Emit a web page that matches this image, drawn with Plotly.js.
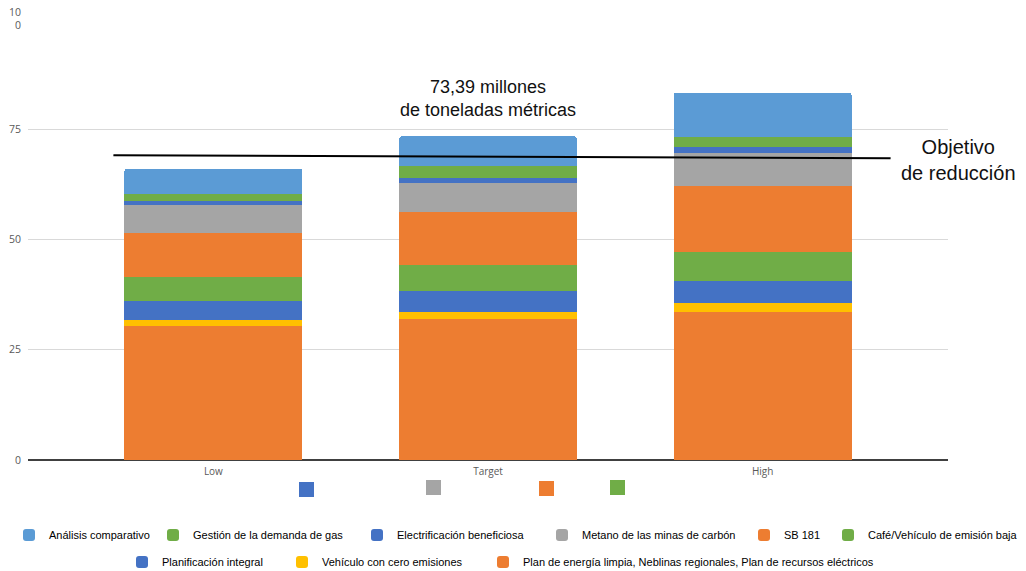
<!DOCTYPE html>
<html>
<head>
<meta charset="utf-8">
<script src="https://cdn.plot.ly/plotly-3.0.1.min.js"></script>
<style>html,body{margin:0;padding:0;background:#fff}#chart{width:1026px;height:571px}</style>
</head>
<body>
<div id="chart"></div>
<script>
// ----- data -----
const categories = ["Low", "Target", "High"];
const seriesNames = [
  "Plan de energía limpia, Neblinas regionales, Plan de recursos eléctricos",
  "Vehículo con cero emisiones",
  "Planificación integral",
  "Café/Vehículo de emisión baja",
  "SB 181",
  "Metano de las minas de carbón",
  "Electrificación beneficiosa",
  "Gestión de la demanda de gas",
  "Análisis comparativo"
];
const planEnergia   = [30.4, 32.0, 33.6];
const vehiculoCero  = [1.3, 1.6, 1.9];
const planificacion = [4.3, 4.7, 5.0];
const cafeVehiculo  = [5.4, 5.9, 6.6];
const sb181         = [10.1, 12.1, 15.0];
const metano        = [6.3, 6.6, 7.5];
const electrif      = [0.9, 1.1, 1.3];
const gestionGas    = [1.7, 2.6, 2.4];
const analisis      = [5.7, 6.79, 10.0];
const seriesValues = [planEnergia, vehiculoCero, planificacion, cafeVehiculo, sb181, metano, electrif, gestionGas, analisis];
const seriesColors = ["#ED7D31", "#FFC000", "#4472C4", "#70AD47", "#ED7D31", "#A5A5A5", "#4472C4", "#70AD47", "#5B9BD5"];
const yTickVals = [0, 25, 50, 75, 100];
const yTickText = ["0", "25", "50", "75", "10<br>0"];
const reductionTargetX = [-0.364, 2.466];
const reductionTargetY = [69.1, 68.4];
const totalLabel = "73,39 millones<br>de toneladas métricas";
const targetLabel = "Objetivo<br>de reducción";

// ----- layout helpers -----
const W = 1026, H = 571;
const M = {l: 28, r: 78, t: 19, b: 111, autoexpand: false};
const pw = W - M.l - M.r, ph = H - M.t - M.b;
const px = v => (v - M.l) / pw;
const py = v => (H - M.b - v) / ph;

// legend entry text-start pixel positions (x) and row centre (y), per series (same order as seriesNames)
const legendPos = [
  [523, 562], [322, 562], [162, 562],
  [868, 535], [784, 535], [582, 535], [397, 535], [193, 535], [49, 535]
];
const TEXT_OFFSET = 40;

const traces = seriesNames.map((name, i) => ({
  type: "bar",
  name: name,
  x: categories,
  y: seriesValues[i],
  width: 0.648,
  marker: {color: seriesColors[i], line: {width: 0}},
  legend: i === 0 ? "legend" : "legend" + (i + 1),
  hoverinfo: "name+y"
}));

const deco = [
  {x: 299, y: 482, c: "#4472C4"},
  {x: 426, y: 480, c: "#A5A5A5"},
  {x: 539, y: 481, c: "#ED7D31"},
  {x: 610, y: 480, c: "#70AD47"}
];

const shapes = [{
  type: "line", xref: "x", yref: "y",
  x0: reductionTargetX[0], y0: reductionTargetY[0],
  x1: reductionTargetX[1], y1: reductionTargetY[1],
  line: {color: "#000", width: 2}
}].concat(deco.map(d => ({
  type: "rect", xref: "paper", yref: "paper",
  x0: px(d.x), x1: px(d.x + 15), y0: py(d.y + 15), y1: py(d.y),
  fillcolor: d.c, line: {width: 0}
})));

const layout = {
  width: W, height: H,
  margin: M,
  paper_bgcolor: "#fff", plot_bgcolor: "#fff",
  barmode: "stack",
  barcornerradius: 3,
  font: {family: "Liberation Sans, Arial, sans-serif", color: "#404040"},
  xaxis: {
    range: [-0.675, 2.675],
    showgrid: false, zeroline: false,
    showline: false,
    ticks: "",
    tickfont: {size: 10, color: "#595959", family: "Open Sans, sans-serif"},
    ticklabelstandoff: 4
  },
  yaxis: {
    range: [0, 100],
    tickvals: yTickVals, ticktext: yTickText,
    showgrid: true, gridcolor: "#d9d9d9", gridwidth: 1,
    zeroline: true, zerolinecolor: "#404040", zerolinewidth: 1.5,
    showline: false, ticks: "",
    tickfont: {size: 10.5, color: "#595959", family: "Open Sans, sans-serif"},
    ticklabelstandoff: 6
  },
  shapes: shapes,
  annotations: [
    {xref: "x", yref: "paper", x: 1, y: py(98), text: totalLabel, showarrow: false,
     font: {size: 18, color: "#111"}, align: "center", yanchor: "middle"},
    {xref: "paper", yref: "paper", x: px(958), y: py(160), text: targetLabel, showarrow: false,
     font: {size: 20, color: "#111"}, align: "center", yanchor: "middle", xanchor: "center"}
  ],
  showlegend: true
};

legendPos.forEach((p, i) => {
  const key = i === 0 ? "legend" : "legend" + (i + 1);
  layout[key] = {
    orientation: "h",
    x: px(p[0] - TEXT_OFFSET), xanchor: "left",
    y: py(p[1]), yanchor: "middle",
    font: {size: 11, color: "#000"},
    itemwidth: 30,
    bgcolor: "rgba(0,0,0,0)"
  };
});

Plotly.newPlot("chart", traces, layout, {displayModeBar: false, staticPlot: true});
</script>
</body>
</html>
